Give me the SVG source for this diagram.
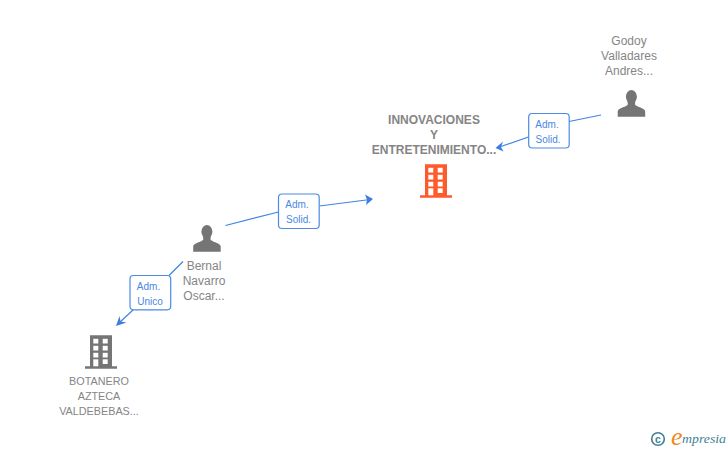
<svg xmlns="http://www.w3.org/2000/svg" width="728" height="450" viewBox="0 0 728 450">
<style>
.n{font-family:"Liberation Sans",Arial,sans-serif;font-size:12px;fill:#858585;text-anchor:middle}
.b{font-weight:bold}
.e{font-family:"Liberation Sans",Arial,sans-serif;font-size:10px;fill:#4a88e4;text-anchor:middle}
.c{fill:none;stroke:#3f83e3;stroke-width:1.2}
.box{fill:#fff;stroke:#4a8be6;stroke-width:1.2}
.ah{fill:#3a7fe0}
.g{fill:#757575}
.o{fill:#ff5a2c}
.w{fill:#fff}
</style>
<defs>
<g id="person"><ellipse cx="13.700" cy="6.700" rx="5.500" ry="6.700"/><rect x="10" y="10" width="7.400" height="7"/><path d="M0 26.700V21.500C0 18.500 6.500 17.500 10 15H17.400C21 17.500 27.500 18.500 27.500 21.500V26.700Z"/></g>
<g id="building"><path d="M5 0H27V31H32V33.500H0V31H5Z"/><g class="w"><rect x="8.300" y="3.500" width="5" height="4.700"/><rect x="17.700" y="3.500" width="5" height="4.700"/><rect x="8.300" y="10.500" width="5" height="4.700"/><rect x="17.700" y="10.500" width="5" height="4.700"/><rect x="8.300" y="17.500" width="5" height="4.700"/><rect x="17.700" y="17.500" width="5" height="4.700"/><rect x="8.300" y="24" width="5" height="7"/><rect x="17.700" y="24" width="5" height="4.700"/></g></g>
</defs>
<g id="connectors">
<path class="c" d="M601 115 L569 121.500"/>
<path class="c" d="M528.500 137 L498 147.500"/>
<path class="ah" d="M495.500 148 L503 141.500 L501 147 L503.500 151.500Z"/>
<path class="c" d="M225.500 225.500 L278.500 212"/>
<path class="c" d="M319.500 206 L370 199.500"/>
<path class="ah" d="M373 199 L365 194.500 L367 199.700 L366 205Z"/>
<path class="c" d="M183 261.500 L169 275.500"/>
<path class="c" d="M133 310 L119 323"/>
<path class="ah" d="M116 326 L126.500 322.500 L120.500 321.500 L119.500 316Z"/>
</g>
<g id="edge-godoy"><rect class="box" x="528.700" y="113.500" width="40.500" height="34.500" rx="3.500"/><text class="e" x="547" y="127.500">Adm.</text><text class="e" x="548" y="142.500">Solid.</text></g>
<g id="edge-bernal-innov"><rect class="box" x="278.500" y="194" width="40.700" height="34.500" rx="3.500"/><text class="e" x="297" y="207.500">Adm.</text><text class="e" x="298.500" y="222.500">Solid.</text></g>
<g id="edge-bernal-botanero"><rect class="box" x="130" y="275.500" width="40.700" height="34.300" rx="3.500"/><text class="e" x="148.500" y="289.500">Adm.</text><text class="e" x="150" y="304.500">Unico</text></g>
<g id="node-innovaciones">
<text class="n b" x="434" y="124">INNOVACIONES</text>
<text class="n b" x="434" y="139">Y</text>
<text class="n b" x="434" y="154">ENTRETENIMIENTO...</text>
<use href="#building" class="o" x="420" y="164.300"/>
</g>
<g id="node-godoy">
<text class="n" x="629" y="45">Godoy</text>
<text class="n" x="629" y="60">Valladares</text>
<text class="n" x="629" y="75">Andres...</text>
<use href="#person" class="g" x="617.700" y="90"/>
</g>
<g id="node-bernal">
<use href="#person" class="g" x="193.200" y="225"/>
<text class="n" x="204" y="270">Bernal</text>
<text class="n" x="204" y="285">Navarro</text>
<text class="n" x="204" y="300">Oscar...</text>
</g>
<g id="node-botanero">
<use href="#building" class="g" x="85" y="335.300"/>
<text class="n" x="99" y="385" style="font-size:10.800px">BOTANERO</text>
<text class="n" x="99" y="400" style="font-size:10.800px">AZTECA</text>
<text class="n" x="99" y="415" style="font-size:10.800px">VALDEBEBAS...</text>
</g>
<g id="logo">
<circle cx="658" cy="439" r="6.300" fill="none" stroke="#3f7f95" stroke-width="1.600"/>
<text x="658" y="442.500" font-family="Liberation Sans,sans-serif" font-size="10.500" font-weight="bold" fill="#3f7f95" text-anchor="middle">c</text>
<text x="671" y="445" font-family="Liberation Serif,serif" font-style="italic" font-size="26" fill="#f08a1d">e</text>
<text x="682" y="443" font-family="Liberation Serif,serif" font-style="italic" font-size="13.500" fill="#3f7f95" textLength="44" lengthAdjust="spacingAndGlyphs">mpresia</text>
</g>
</svg>
